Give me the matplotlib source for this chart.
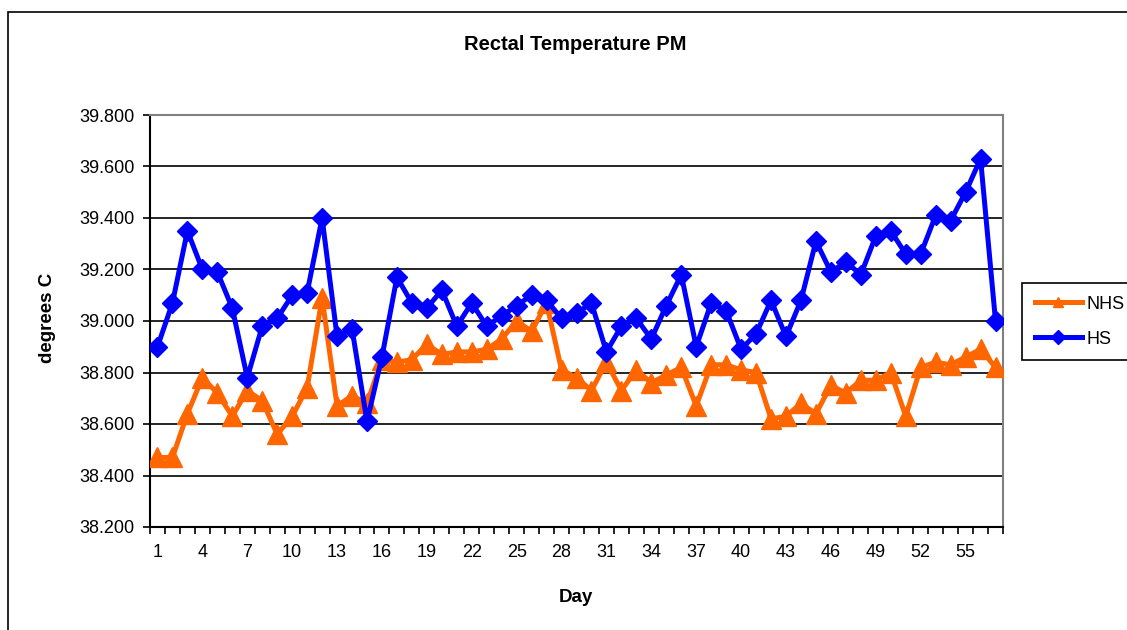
import matplotlib
matplotlib.use("Agg")
import matplotlib.pyplot as plt
from matplotlib.patches import Rectangle
from matplotlib.ticker import FormatStrFormatter

plt.rcParams['font.family'] = ['Liberation Sans', 'DejaVu Sans']

ORANGE = "#FF6600"
BLUE = "#0000FF"

days = list(range(1, 58))

nhs = [38.47, 38.47, 38.64, 38.78, 38.72, 38.63, 38.73, 38.69, 38.56, 38.63,
       38.74, 39.09, 38.67, 38.71, 38.68, 38.85, 38.84, 38.85, 38.91, 38.87,
       38.88, 38.88, 38.89, 38.93, 39.00, 38.96, 39.07, 38.81, 38.78, 38.73,
       38.84, 38.73, 38.81, 38.76, 38.79, 38.82, 38.67, 38.83, 38.83, 38.81,
       38.80, 38.62, 38.63, 38.68, 38.64, 38.75, 38.72, 38.77, 38.77, 38.80,
       38.63, 38.82, 38.84, 38.83, 38.86, 38.89, 38.82]

hs = [38.90, 39.07, 39.35, 39.20, 39.19, 39.05, 38.78, 38.98, 39.01, 39.10,
      39.11, 39.40, 38.94, 38.97, 38.61, 38.86, 39.17, 39.07, 39.05, 39.12,
      38.98, 39.07, 38.98, 39.02, 39.06, 39.10, 39.08, 39.01, 39.03, 39.07,
      38.88, 38.98, 39.01, 38.93, 39.06, 39.18, 38.90, 39.07, 39.04, 38.89,
      38.95, 39.08, 38.94, 39.08, 39.31, 39.19, 39.23, 39.18, 39.33, 39.35,
      39.26, 39.26, 39.41, 39.39, 39.50, 39.63, 39.00]

y_ticks = [38.2, 38.4, 38.6, 38.8, 39.0, 39.2, 39.4, 39.6, 39.8]
x_labels = list(range(1, 58, 3))

fig = plt.figure(figsize=(11.27, 6.30), dpi=100)
ax = fig.add_axes([150 / 1127, 1 - 527 / 630, 853 / 1127, 412 / 630])

# outer chart border (cut off on the right and bottom like the original)
fig.patches.append(Rectangle((8 / 1127, -0.05), 1.2, 1 - 12 / 630 + 0.05,
                             transform=fig.transFigure, fill=False,
                             edgecolor="black", linewidth=1.2, zorder=0))

ax.plot(days, nhs, color=ORANGE, marker="^", markersize=14.5, linewidth=3.6,
        markeredgecolor=ORANGE, label="NHS", zorder=3)
ax.plot(days, hs, color=BLUE, marker="D", markersize=10.5, linewidth=3.6,
        markeredgecolor=BLUE, label="HS", zorder=4)

ax.set_xlim(0.5, 57.5)
ax.set_ylim(38.2, 39.8)
ax.set_yticks(y_ticks)
ax.yaxis.set_major_formatter(FormatStrFormatter("%.3f"))
ax.yaxis.grid(True, color="black", linewidth=1.2)
ax.set_axisbelow(True)

# category ticks at boundaries, labels every third day
ax.set_xticks([d + 0.5 for d in range(0, 58)])
ax.set_xticklabels([])
ax.set_xticks(x_labels, minor=True)
ax.set_xticklabels([str(d) for d in x_labels], minor=True)
ax.tick_params(axis="x", which="major", length=5, width=1.2, direction="out")
ax.tick_params(axis="x", which="minor", length=0, pad=12, labelsize=13)
ax.tick_params(axis="y", length=5, width=1.2, labelsize=13, pad=6)

ax.spines["top"].set_color("#808080")
ax.spines["right"].set_color("#808080")
for side in ["top", "right", "left", "bottom"]:
    ax.spines[side].set_linewidth(1.5)

fig.text(576 / 1127, 1 - 597 / 630, "Day", ha="center", va="center",
         fontweight="bold", fontsize=13.5)
fig.text(48 / 1127, 1 - 318 / 630, "degrees C", ha="center", va="center",
         rotation=90, fontweight="bold", fontsize=13.5)
fig.text(575 / 1127, 1 - 45 / 630, "Rectal Temperature PM", ha="center",
         va="center", fontweight="bold", fontsize=14.5)

leg = fig.legend(loc="upper left", bbox_to_anchor=(1022 / 1127, 1 - 283 / 630),
                 fontsize=13, frameon=True, fancybox=False, framealpha=1,
                 edgecolor="black", handlelength=2.6, borderpad=0.7,
                 labelspacing=1.0, handletextpad=0.3, borderaxespad=0)
leg.get_frame().set_linewidth(1.2)
for h in leg.legend_handles:
    h.set_markersize(7)

fig.savefig("out.png", dpi=100)
